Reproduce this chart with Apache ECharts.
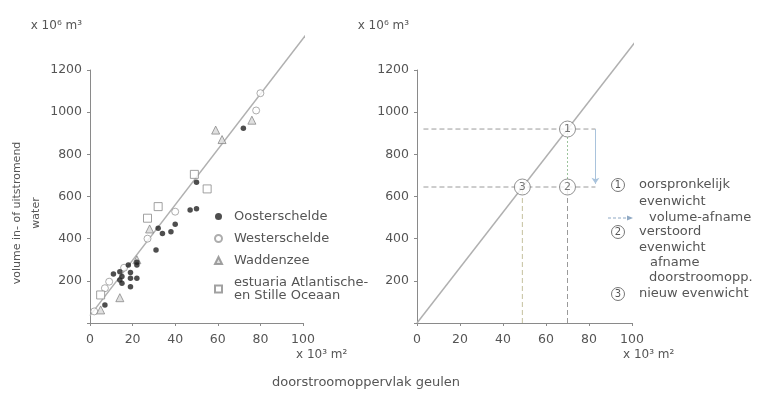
<!DOCTYPE html>
<html>
<head>
<meta charset="utf-8">
<script src="https://cdn.jsdelivr.net/npm/echarts@6/dist/echarts.min.js"></script>
<style>
  html, body { margin: 0; padding: 0; background: #fff; }
  #chart { width: 760px; height: 395px; }
</style>
</head>
<body>
<div id="chart"></div>
<script>
// Volume of in/outflowing water vs. channel cross-section (x 10^3 m2 -> x 10^6 m3)
const oosterschelde = [[7,85],[11,232],[14,243],[14,204],[15,220],[15,188],[18,275],[19,239],[19,212],[22,212],[19,172],[22,288],[22,275],[31,346],[32,449],[34,425],[38,433],[40,468],[47,536],[50,542],[50,667],[72,924]];
const westerschelde = [[2,55],[7,165],[9,196],[16,262],[27,400],[40,528],[78,1008],[80,1090]];
const waddenzee = [[5,62],[14,120],[22,300],[28,446],[59,915],[62,870],[76,962]];
const estuaria = [[5,133],[27,497],[32,552],[49,705],[55,636]];
const fitLine = [[0,35],[102,1375]];

// Equilibrium diagram
const equilibriumLine = [[0,0],[102,1340]];
const statePoints = [[70,920,'1'],[70,645,'2'],[49,645,'3']];
const levelOriginal = [[3,920],[83,920]];
const levelDisturbed = [[3,645],[83,645]];
const dropNew = [[49,0],[49,645]];
const dropDisturbed = [[70,0],[70,645]];
const volumeStep = [[70,645],[70,920]];
const volumeArrow = [[83,920],[83,660]];

const xTicks = { min: 0, max: 100, interval: 20 };
const yTicks = { min: 0, max: 1200, interval: 200 };

const FONT = 'DejaVu Sans';
const TXT = '#555';
const AXIS = '#8a8a8a';

function xAxisFor(idx, gap) {
  return {
    gridIndex: idx, type: 'value', min: xTicks.min, max: xTicks.max, interval: xTicks.interval,
    name: 'x 10³ m²', nameLocation: 'end', nameGap: gap,
    nameTextStyle: { color: TXT, fontSize: 12, align: 'left', verticalAlign: 'top', padding: [26, 0, 0, 0] },
    axisLine: { show: true, lineStyle: { color: AXIS } },
    axisTick: { show: true, length: 3, lineStyle: { color: AXIS } },
    splitLine: { show: false },
    axisLabel: { color: TXT, fontSize: 12.5, margin: 10 }
  };
}
function yAxisFor(idx) {
  return {
    gridIndex: idx, type: 'value', min: yTicks.min, max: yTicks.max, interval: yTicks.interval,
    name: 'x 10⁶ m³', nameLocation: 'end', nameGap: 38,
    nameTextStyle: { color: TXT, fontSize: 12, align: 'right', padding: [0, 8, 0, 0] },
    axisLine: { show: true, lineStyle: { color: AXIS } },
    axisTick: { show: true, length: 3, lineStyle: { color: AXIS } },
    splitLine: { show: false },
    axisLabel: { color: TXT, fontSize: 12.5, margin: 8, formatter: v => (v === 0 ? '' : v) }
  };
}
function guide(data, color, type) {
  return {
    type: 'line', xAxisIndex: 1, yAxisIndex: 1, data, symbol: 'none', silent: true,
    lineStyle: { color, width: 1, type }, z: 1
  };
}

const chart = echarts.init(document.getElementById('chart'), null, { renderer: 'canvas' });

const legendRows = [
  { y: 185, mark: '1', text: 'oorspronkelijk', x: 639 },
  { y: 202, text: 'evenwicht', x: 639 },
  { y: 218, text: 'volume-afname', x: 649, arrow: true },
  { y: 232, mark: '2', text: 'verstoord', x: 639 },
  { y: 248, text: 'evenwicht', x: 639 },
  { y: 263, text: 'afname', x: 650 },
  { y: 278, text: 'doorstroomopp.', x: 649 },
  { y: 294, mark: '3', text: 'nieuw evenwicht', x: 639 }
];
const legendGraphics = [];
legendRows.forEach(r => {
  legendGraphics.push({
    type: 'text', x: r.x, y: r.y,
    style: { text: r.text, fill: TXT, font: '13px "' + FONT + '"', verticalAlign: 'middle' }
  });
  if (r.mark) {
    legendGraphics.push({ type: 'circle', shape: { cx: 618, cy: r.y, r: 6.5 }, style: { fill: '#fff', stroke: '#777', lineWidth: 1 } });
    legendGraphics.push({ type: 'text', x: 618, y: r.y, style: { text: r.mark, fill: '#555', font: '10px "' + FONT + '"', align: 'center', verticalAlign: 'middle' } });
  }
  if (r.arrow) {
    legendGraphics.push({ type: 'line', shape: { x1: 608, y1: r.y, x2: 630, y2: r.y }, style: { stroke: '#8fa9c4', lineWidth: 1, lineDash: [3, 2] } });
    legendGraphics.push({ type: 'polygon', shape: { points: [[633, r.y], [627, r.y - 2.5], [627, r.y + 2.5]] }, style: { fill: '#8fa9c4' } });
  }
});

chart.setOption({
  backgroundColor: '#fff',
  animation: false,
  textStyle: { fontFamily: FONT },
  grid: [
    { left: 90, top: 70, width: 213, height: 253 },
    { left: 417, top: 70, width: 215, height: 253 }
  ],
  xAxis: [xAxisFor(0, -7), xAxisFor(1, -9)],
  yAxis: [yAxisFor(0), yAxisFor(1)],
  legend: {
    orient: 'vertical', left: 209, top: 205, itemWidth: 7, itemHeight: 7, itemGap: 9,
    textStyle: { color: TXT, fontSize: 13, fontFamily: FONT, padding: [0, 0, 0, 7] },
    data: ['Oosterschelde', 'Westerschelde', 'Waddenzee', 'estuaria Atlantische-\nen Stille Oceaan']
  },
  graphic: [
    {
      type: 'text', x: 27, y: 213, rotation: Math.PI / 2,
      style: { text: 'volume in- of uitstromend\nwater', fill: TXT, font: '11px "' + FONT + '"', align: 'center', verticalAlign: 'middle', lineHeight: 19 }
    },
    {
      type: 'text', x: 366, y: 383,
      style: { text: 'doorstroomoppervlak geulen', fill: TXT, font: '13px "' + FONT + '"', align: 'center', verticalAlign: 'middle' }
    }
  ].concat(legendGraphics),
  series: [
    {
      type: 'line', xAxisIndex: 0, yAxisIndex: 0, data: fitLine, symbol: 'none', clip: false, silent: true,
      lineStyle: { color: '#b0b0b0', width: 1.5 }, z: 1
    },
    {
      name: 'Oosterschelde', type: 'scatter', xAxisIndex: 0, yAxisIndex: 0, data: oosterschelde,
      symbol: 'circle', symbolSize: 5.5, itemStyle: { color: '#222' }, z: 4
    },
    {
      name: 'Westerschelde', type: 'scatter', xAxisIndex: 0, yAxisIndex: 0, data: westerschelde,
      symbol: 'circle', symbolSize: 7, itemStyle: { color: '#fff', borderColor: '#999', borderWidth: 1 }, z: 3
    },
    {
      name: 'Waddenzee', type: 'scatter', xAxisIndex: 0, yAxisIndex: 0, data: waddenzee,
      symbol: 'triangle', symbolSize: 8, itemStyle: { color: '#d8d8d8', borderColor: '#8a8a8a', borderWidth: 1 }, z: 3
    },
    {
      name: 'estuaria Atlantische-\nen Stille Oceaan', type: 'scatter', xAxisIndex: 0, yAxisIndex: 0, data: estuaria,
      symbol: 'rect', symbolSize: 8, itemStyle: { color: '#fff', borderColor: '#8a8a8a', borderWidth: 1 }, z: 3
    },
    {
      type: 'line', xAxisIndex: 1, yAxisIndex: 1, data: equilibriumLine, symbol: 'none', clip: false, silent: true,
      lineStyle: { color: '#b0b0b0', width: 1.5 }, z: 2
    },
    guide(levelOriginal, '#9a9a9a', [5, 3]),
    guide(levelDisturbed, '#9a9a9a', [5, 3]),
    guide(dropNew, '#c4c09e', [5, 3]),
    guide(dropDisturbed, '#9a9a9a', [5, 3]),
    guide(volumeStep, '#9cc49c', [2, 2]),
    {
      type: 'line', xAxisIndex: 1, yAxisIndex: 1, data: [], silent: true,
      markLine: {
        silent: true, symbol: ['none', 'arrow'], symbolSize: 6, label: { show: false },
        lineStyle: { color: '#a9c3dc', width: 1, type: 'solid' },
        data: [[{ coord: volumeArrow[0] }, { coord: volumeArrow[1] }]]
      }
    },
    {
      type: 'scatter', xAxisIndex: 1, yAxisIndex: 1, data: statePoints, symbol: 'circle', symbolSize: 16,
      itemStyle: { color: '#fff', borderColor: '#777', borderWidth: 1 }, z: 5,
      label: { show: true, position: 'inside', formatter: p => p.data[2], color: '#555', fontSize: 11, fontFamily: FONT }
    }
  ]
});
</script>
</body>
</html>
